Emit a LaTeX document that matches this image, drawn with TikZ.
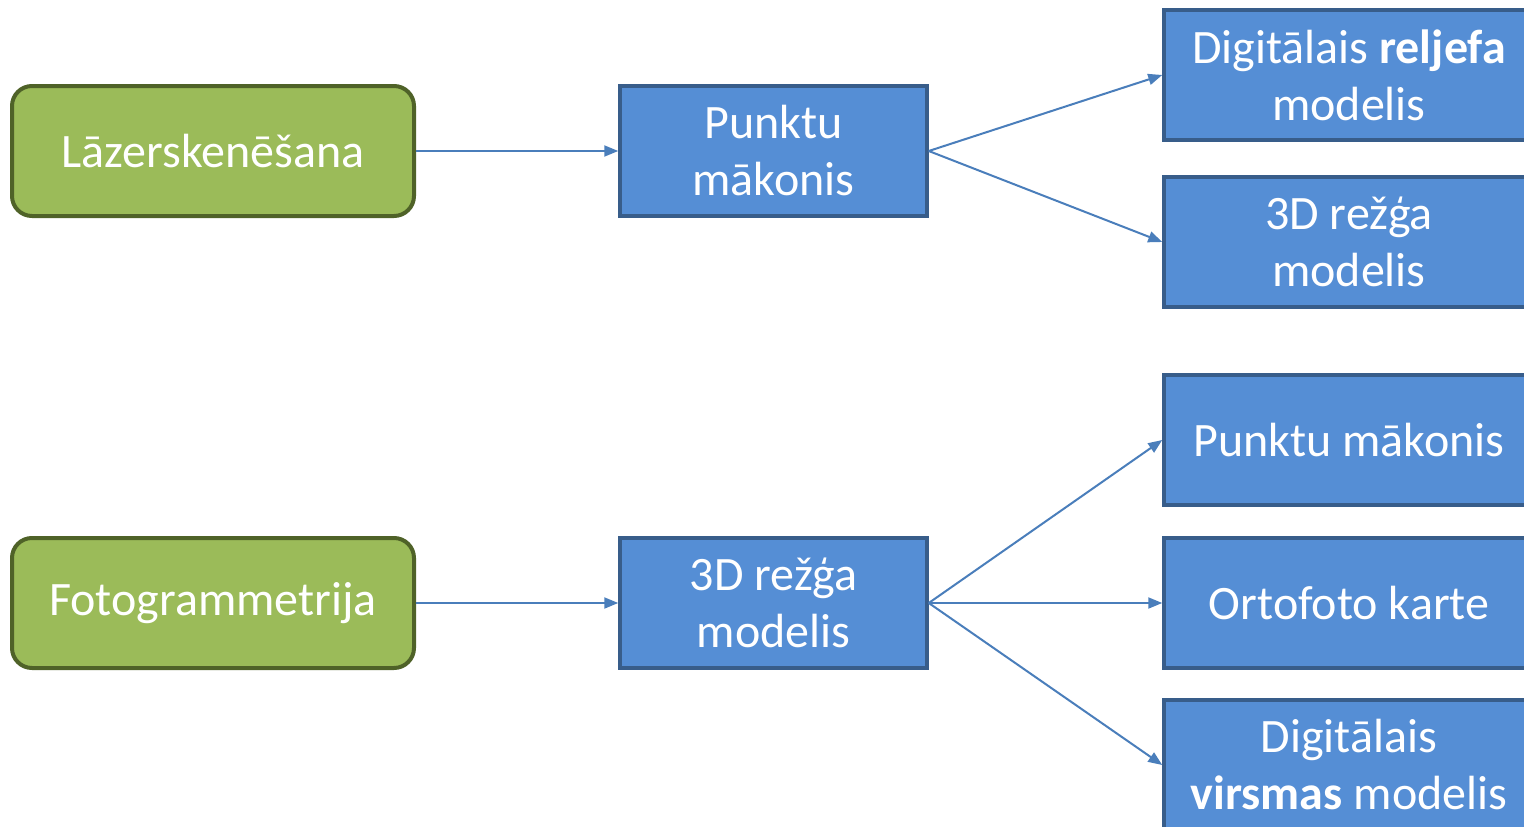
\documentclass[tikz,border=0pt]{standalone}
\usepackage{fontspec}
\setmainfont{Carlito}
\usetikzlibrary{arrows.meta}
\definecolor{gfill}{HTML}{9BBB59}
\definecolor{gline}{HTML}{4F6228}
\definecolor{bfill}{HTML}{558ED5}
\definecolor{bline}{HTML}{385D8A}
\definecolor{arr}{HTML}{4A7EBB}
\tikzset{
  srcbox/.style={draw=gline, fill=gfill, line width=4pt, rounded corners=20pt,
    minimum width=402pt, minimum height=130pt, text=white, font=\fontsize{48}{57}\selectfont, align=center, inner sep=0pt},
  midbox/.style={draw=bline, fill=bfill, line width=3.5pt,
    minimum width=307pt, minimum height=130pt, text=white, font=\fontsize{48}{57}\selectfont, align=center, inner sep=0pt},
  outbox/.style={draw=bline, fill=bfill, line width=3.5pt,
    minimum width=370pt, minimum height=130pt, text=white, font=\fontsize{48}{57}\selectfont, align=center, inner sep=0pt},
  conn/.style={draw=arr, line width=2pt, -{Triangle[length=14pt,width=11pt]}}
}
\begin{document}
\begin{tikzpicture}[x=1pt,y=-1pt]
\useasboundingbox (0,0) rectangle (1524,827);
\clip (0,0) rectangle (1524,827);
\node[srcbox] (laz) at (213,151) {Lāzerskenēšana};
\node[srcbox] (foto) at (213,603) {Fotogrammetrija};
\node[midbox] (pm) at (773.5,151) {Punktu\\mākonis};
\node[midbox] (rm) at (773.5,603) {3D režģa\\modelis};
\node[outbox] (drm) at (1349,75) {Digitālais \textbf{reljefa}\\modelis};
\node[outbox] (rm2) at (1349,242) {3D režģa\\modelis};
\node[outbox] (pm2) at (1349,440) {Punktu mākonis};
\node[outbox] (ok) at (1349,603) {Ortofoto karte};
\node[outbox] (dvm) at (1349,765) {Digitālais\\\textbf{virsmas} modelis};
\draw[conn] (laz.east) -- (pm.west);
\draw[conn] (foto.east) -- (rm.west);
\draw[conn] (pm.east) -- (drm.west);
\draw[conn] (pm.east) -- (rm2.west);
\draw[conn] (rm.east) -- (pm2.west);
\draw[conn] (rm.east) -- (ok.west);
\draw[conn] (rm.east) -- (dvm.west);
\end{tikzpicture}
\end{document}
